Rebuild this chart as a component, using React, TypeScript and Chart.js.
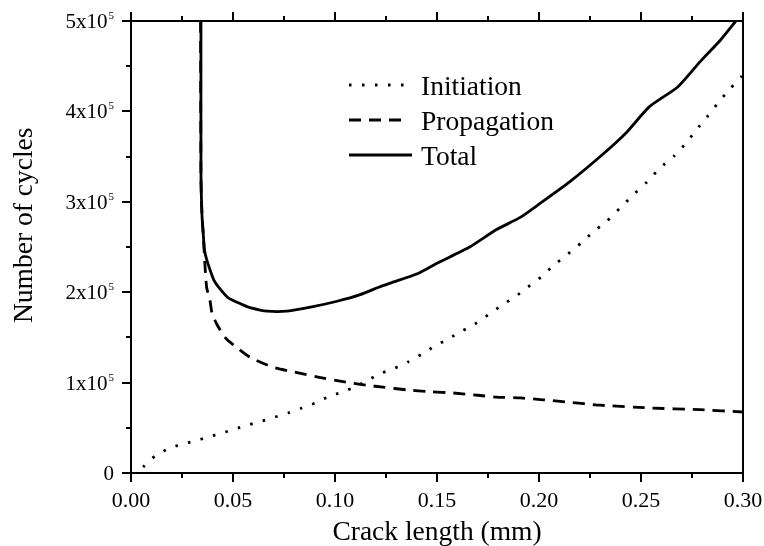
import React, { useEffect, useRef } from "react";
import { Chart, registerables } from "chart.js";

Chart.register(...registerables);

// ---- Data (crack length in mm, number of cycles) ----
const initiationX = [0.0059, 0.0118, 0.0181, 0.025, 0.0314, 0.0377, 0.0446, 0.051, 0.0574, 0.0642, 0.0706, 0.077, 0.0838, 0.0902, 0.0966, 0.1034, 0.1098, 0.1162, 0.123, 0.1294, 0.1358, 0.1426, 0.149, 0.1554, 0.1623, 0.1686, 0.175, 0.1819, 0.1882, 0.1946, 0.201, 0.2074, 0.2142, 0.2206, 0.2265, 0.2333, 0.2402, 0.2461, 0.2529, 0.2593, 0.2662, 0.2721, 0.277, 0.2824, 0.2877, 0.2936, 0.2995];
const initiationY = [6600, 18800, 26500, 32000, 35400, 39800, 44200, 48700, 53100, 57500, 61900, 66400, 71900, 77400, 84100, 89600, 95100, 102900, 110600, 116100, 122800, 131600, 140500, 148200, 157100, 164800, 174800, 185800, 194700, 205800, 216800, 230100, 242300, 254400, 266600, 278800, 294200, 307500, 321900, 337400, 350700, 365000, 379400, 393800, 409300, 424800, 439200];

const propagationX = [0.0341, 0.0343, 0.0348, 0.0354, 0.0363, 0.0371, 0.0387, 0.0397, 0.0422, 0.0461, 0.05, 0.0583, 0.0696, 0.0814, 0.0917, 0.104, 0.116, 0.1235, 0.135, 0.1466, 0.158, 0.17, 0.179, 0.191, 0.202, 0.214, 0.23, 0.254, 0.279, 0.3];
const propagationY = [500000, 324000, 285000, 265000, 228000, 205000, 191000, 177000, 164000, 150000, 142000, 128000, 117000, 111000, 106000, 101000, 97000, 95000, 92000, 90000, 88500, 86000, 84000, 83000, 81000, 78500, 75000, 72000, 70000, 67500];

const totalX = [0.0343, 0.0343, 0.0348, 0.0354, 0.036, 0.0371, 0.0387, 0.0407, 0.0428, 0.0475, 0.0549, 0.0583, 0.0667, 0.0765, 0.0892, 0.101, 0.112, 0.122, 0.127, 0.141, 0.15, 0.166, 0.179, 0.191, 0.201, 0.215, 0.231, 0.243, 0.254, 0.268, 0.279, 0.289, 0.2965];
const totalY = [500000, 332000, 285000, 265000, 247000, 236000, 225000, 213000, 206000, 194000, 186000, 183000, 179000, 179000, 184000, 190000, 197000, 206000, 210000, 221000, 232000, 250000, 269000, 283000, 299000, 322000, 352000, 377000, 405000, 427000, 455000, 479000, 500000];

const seriesNames = ["Initiation", "Propagation", "Total"];

const xTickValues = [0, 0.05, 0.1, 0.15, 0.2, 0.25, 0.3];
const xTickLabels = ["0.00", "0.05", "0.10", "0.15", "0.20", "0.25", "0.30"];
const xMinorValues = [0.025, 0.075, 0.125, 0.175, 0.225, 0.275];

const yTickValues = [0, 100000, 200000, 300000, 400000, 500000];
const yTickBase = ["0", "1x10", "2x10", "3x10", "4x10", "5x10"];
const yTickSup = ["", "5", "5", "5", "5", "5"];
const yMinorValues = [50000, 150000, 250000, 350000, 450000];

const xTitle = "Crack length (mm)";
const yTitle = "Number of cycles";

const SERIF = "'Liberation Serif', 'Times New Roman', serif";

const toPoints = (xs: number[], ys: number[]) => xs.map((x, i) => ({ x, y: ys[i] }));

const DOT = [2.5, 10.5];
const DASH = [12, 8];
const LW = 2.8;

const axesPlugin = {
  id: "customAxes",
  afterDraw(chart: any) {
    const ctx = chart.ctx as CanvasRenderingContext2D;
    const xs = chart.scales.x;
    const ys = chart.scales.y;
    const { left, right, top, bottom } = chart.chartArea;
    ctx.save();
    ctx.strokeStyle = "#000";
    ctx.fillStyle = "#000";
    ctx.lineWidth = 2;
    ctx.lineCap = "butt";
    ctx.strokeRect(left, top, right - left, bottom - top);

    const major = 9;
    const minor = 5;
    ctx.beginPath();
    xTickValues.forEach((v) => {
      const px = Math.round(xs.getPixelForValue(v));
      ctx.moveTo(px, bottom);
      ctx.lineTo(px, bottom + major);
      ctx.moveTo(px, top);
      ctx.lineTo(px, top - major);
    });
    xMinorValues.forEach((v) => {
      const px = Math.round(xs.getPixelForValue(v));
      ctx.moveTo(px, bottom);
      ctx.lineTo(px, bottom + minor);
      ctx.moveTo(px, top);
      ctx.lineTo(px, top - minor);
    });
    yTickValues.forEach((v) => {
      const py = Math.round(ys.getPixelForValue(v));
      ctx.moveTo(left, py);
      ctx.lineTo(left - major, py);
    });
    yMinorValues.forEach((v) => {
      const py = Math.round(ys.getPixelForValue(v));
      ctx.moveTo(left, py);
      ctx.lineTo(left - minor, py);
    });
    ctx.stroke();

    // x tick labels
    ctx.font = `22px ${SERIF}`;
    ctx.textAlign = "center";
    ctx.textBaseline = "alphabetic";
    xTickValues.forEach((v, i) => {
      const px = xs.getPixelForValue(v);
      ctx.fillText(xTickLabels[i], px, bottom + 34);
    });

    // y tick labels with superscript
    const labelRight = left - 17;
    yTickValues.forEach((v, i) => {
      const py = ys.getPixelForValue(v);
      ctx.font = `21px ${SERIF}`;
      const baseW = ctx.measureText(yTickBase[i]).width;
      ctx.font = `11px ${SERIF}`;
      const supW = yTickSup[i] ? ctx.measureText(yTickSup[i]).width + 1 : 0;
      const startX = labelRight - baseW - supW;
      ctx.textAlign = "left";
      ctx.font = `21px ${SERIF}`;
      ctx.fillText(yTickBase[i], startX, py + 7);
      if (yTickSup[i]) {
        ctx.font = `11px ${SERIF}`;
        ctx.fillText(yTickSup[i], startX + baseW + 1, py - 2);
      }
    });

    // axis titles
    ctx.font = `27.5px ${SERIF}`;
    ctx.textAlign = "center";
    ctx.fillText(xTitle, (left + right) / 2, bottom + 67);
    ctx.save();
    ctx.translate(32, 323);
    ctx.rotate(-Math.PI / 2);
    ctx.textAlign = "left";
    ctx.fillText(yTitle, 0, 0);
    ctx.restore();

    // legend
    const legX0 = 349;
    const legX1 = 408;
    const legRows = [85, 120, 155];
    const dashes = [DOT, DASH, []];
    legRows.forEach((ry, i) => {
      ctx.save();
      ctx.lineWidth = LW;
      ctx.setLineDash(dashes[i]);
      ctx.beginPath();
      ctx.moveTo(legX0, ry);
      ctx.lineTo(i === 2 ? legX1 + 4 : legX1, ry);
      ctx.stroke();
      ctx.restore();
      ctx.font = `27.5px ${SERIF}`;
      ctx.textAlign = "left";
      ctx.fillText(seriesNames[i], 421, ry + 10);
    });
    ctx.restore();
  },
};

export default function App() {
  const ref = useRef<HTMLCanvasElement | null>(null);
  useEffect(() => {
    document.body.style.margin = "0";
    const canvas = ref.current;
    if (!canvas) return;
    const chart = new Chart(canvas, {
      type: "scatter",
      data: {
        datasets: [
          {
            label: seriesNames[0],
            data: toPoints(initiationX, initiationY),
            showLine: true,
            borderColor: "#000",
            backgroundColor: "#000",
            borderWidth: LW,
            borderDash: DOT,
            pointRadius: 0,
            tension: 0.2,
          },
          {
            label: seriesNames[1],
            data: toPoints(propagationX, propagationY),
            showLine: true,
            borderColor: "#000",
            backgroundColor: "#000",
            borderWidth: LW,
            borderDash: DASH,
            pointRadius: 0,
            tension: 0.2,
          },
          {
            label: seriesNames[2],
            data: toPoints(totalX, totalY),
            showLine: true,
            borderColor: "#000",
            backgroundColor: "#000",
            borderWidth: LW,
            pointRadius: 0,
            tension: 0.2,
          },
        ],
      },
      options: {
        responsive: false,
        devicePixelRatio: 1,
        animation: false,
        layout: { padding: { left: 131, top: 21, right: 21, bottom: 73 } },
        plugins: { legend: { display: false }, tooltip: { enabled: false } },
        scales: {
          x: { type: "linear", min: 0, max: 0.3, display: false },
          y: { type: "linear", min: 0, max: 500000, display: false },
        },
      },
      plugins: [axesPlugin],
    } as any);
    return () => chart.destroy();
  }, []);
  return (
    <div style={{ position: "fixed", left: 0, top: 0, width: 764, height: 546, background: "#fff" }}>
      <canvas ref={ref} width={764} height={546} style={{ width: 764, height: 546 }} />
    </div>
  );
}
